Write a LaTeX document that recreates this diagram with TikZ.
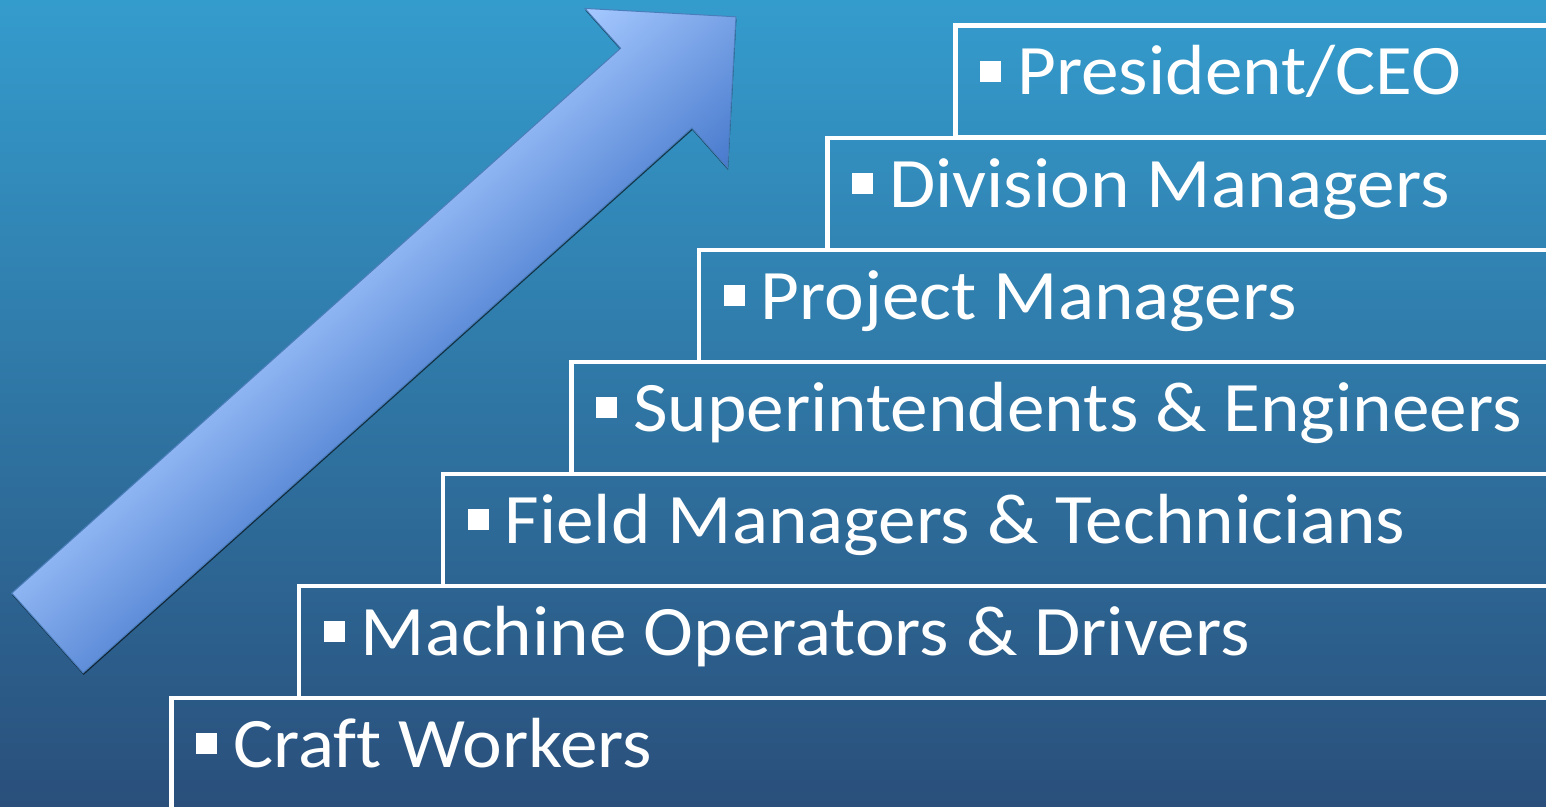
\documentclass[tikz,border=0pt]{standalone}
\usepackage{fontspec}
\setmainfont[Ligatures=NoCommon,FakeStretch=1.06]{Carlito}
\usetikzlibrary{positioning}

\definecolor{bgtop}{HTML}{349CCD}
\definecolor{bgmid}{HTML}{2574A8}
\definecolor{bgbot}{HTML}{2A4F7B}
\definecolor{arrowlight}{HTML}{A6C9FF}
\definecolor{arrowdark}{HTML}{4779CC}
\definecolor{arrowline}{HTML}{4A7EBB}

\tikzset{
  stepbox/.style={draw=white, line width=4.5pt, rectangle, inner sep=0pt,
    minimum width=1500pt, minimum height=112pt, anchor=north west},
  steptext/.style={text=white, font=\fontsize{71}{80}\selectfont, inner sep=0pt,
    anchor=base west, xshift=27pt, yshift=-71.5pt},
}
\newcommand{\stepbullet}{\rule[13pt]{21pt}{21pt}\hspace{16pt}}

\begin{document}
\begin{tikzpicture}[x=1pt,y=-1pt]
  \useasboundingbox (0,0) rectangle (1546,806);
  \clip (0,0) rectangle (1546,806);
  % background
  \shade[top color=bgtop, middle color=bgmid, bottom color=bgbot] (0,0) rectangle (1546,806);

  % steps, bottom to top
  \node[stepbox] (craft) at (169,695.5) {};
  \node[stepbox] (machine) at (296.5,583.5) {};
  \node[stepbox] (field) at (440.5,471.5) {};
  \node[stepbox] (superint) at (569,359.5) {};
  \node[stepbox] (project) at (696.5,247.5) {};
  \node[stepbox] (division) at (825,135.5) {};
  \node[stepbox] (president) at (953,23) {};

  \node[steptext] (crafttext) at (craft.north west) {\stepbullet Craft Workers};
  \node[steptext] (machinetext) at (machine.north west) {\stepbullet Machine Operators \& Drivers};
  \node[steptext] (fieldtext) at (field.north west) {\stepbullet Field Managers \& Technicians};
  \node[steptext] (superinttext) at (superint.north west) {\stepbullet Superintendents \& Engineers};
  \node[steptext] (projecttext) at (project.north west) {\stepbullet Project Managers};
  \node[steptext] (divisiontext) at (division.north west) {\stepbullet Division Managers};
  \node[steptext] (presidenttext) at (president.north west) {\stepbullet President/CEO};

  % rising arrow, drawn along its own axis
  \begin{scope}[x=1pt,y=1pt,transform canvas={shift={(47.5pt,-633pt)},rotate=41.83}]
    \fill[black,opacity=0.6,shift={(-1pt,-1.8pt)}] (0,53.5) -- (817,53.5) -- (817,107) -- (924,0)
      -- (817,-107) -- (817,-53.5) -- (0,-53.5) -- cycle;
    \shadedraw[top color=arrowlight, bottom color=arrowdark, draw=arrowline, line width=1pt]
      (0,53.5) -- (817,53.5) -- (817,107) -- (924,0)
      -- (817,-107) -- (817,-53.5) -- (0,-53.5) -- cycle;
  \end{scope}
\end{tikzpicture}
\end{document}
